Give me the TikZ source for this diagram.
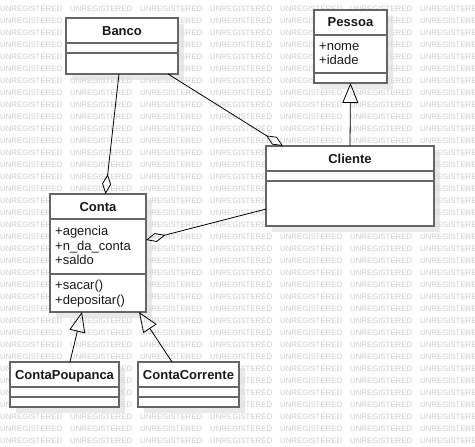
\documentclass[tikz,border=0pt]{standalone}
\usepackage{fontspec}
\setmainfont{Liberation Sans}
\usetikzlibrary{calc}
\usetikzlibrary{positioning}
\usetikzlibrary{arrows.meta}
\usetikzlibrary{shadows}

\begin{document}
\begin{tikzpicture}[x=1pt, y=-1pt,
		classbox/.style={draw=black!60, line width=1.6pt, fill=white, anchor=north west, inner sep=0pt, outer sep=0pt,
			drop shadow={shadow xshift=6pt, shadow yshift=-6pt, fill=black!14, opacity=0.6}},
		sepline/.style={draw=black!60, line width=1.6pt},
		ctitle/.style={anchor=base, inner sep=0pt, text=black!90, font=\fontsize{13}{15}\selectfont\bfseries},
		cattr/.style={anchor=base west, inner sep=0pt, text=black!90, font=\fontsize{13}{15}\selectfont},
		aggr/.style={draw=black, line width=0.8pt, -{Diamond[open, length=20pt, width=9pt]}},
		inher/.style={draw=black, line width=0.8pt, -{Triangle[open, length=20pt, width=16pt]}},
		wmark/.style={anchor=west, inner sep=0pt, text=black!20, font=\fontsize{7.8}{8}\selectfont}]
				\useasboundingbox (0,0) rectangle (475,447);
				\fill[white] (0,0) rectangle (475,447);
				
				% watermark
				\begin{scope}
					\clip (0,0) rectangle (475,447);
					\foreach \r in {0,...,36} {
						\foreach \c in {0,...,6} {
							\node[wmark] (wm-\r-\c) at (70*\c, 9+12*\r) {UNREGISTERED};
						}
					}
				\end{scope}
				
				% classes
				\node[classbox, minimum width=112pt, minimum height=56pt] (banco) at (66,18) {};
				\node[classbox, minimum width=73pt, minimum height=73pt] (pessoa) at (314,10) {};
				\node[classbox, minimum width=168pt, minimum height=80pt] (cliente) at (266,146) {};
				\node[classbox, minimum width=96pt, minimum height=118pt] (conta) at (50,194) {};
				\node[classbox, minimum width=109pt, minimum height=45pt] (poupanca) at (10,362) {};
				\node[classbox, minimum width=101pt, minimum height=45pt] (corrente) at (138,362) {};
				
				\draw[sepline] ($(banco.north west)+(0,25)$) -- ($(banco.north east)+(0,25)$);
				\draw[sepline] ($(banco.north west)+(0,35)$) -- ($(banco.north east)+(0,35)$);
				\draw[sepline] ($(pessoa.north west)+(0,25)$) -- ($(pessoa.north east)+(0,25)$);
				\draw[sepline] ($(pessoa.north west)+(0,63)$) -- ($(pessoa.north east)+(0,63)$);
				\draw[sepline] ($(cliente.north west)+(0,25)$) -- ($(cliente.north east)+(0,25)$);
				\draw[sepline] ($(cliente.north west)+(0,35)$) -- ($(cliente.north east)+(0,35)$);
				\draw[sepline] ($(conta.north west)+(0,25)$) -- ($(conta.north east)+(0,25)$);
				\draw[sepline] ($(conta.north west)+(0,80)$) -- ($(conta.north east)+(0,80)$);
				\draw[sepline] ($(poupanca.north west)+(0,25)$) -- ($(poupanca.north east)+(0,25)$);
				\draw[sepline] ($(poupanca.north west)+(0,35)$) -- ($(poupanca.north east)+(0,35)$);
				\draw[sepline] ($(corrente.north west)+(0,25)$) -- ($(corrente.north east)+(0,25)$);
				\draw[sepline] ($(corrente.north west)+(0,35)$) -- ($(corrente.north east)+(0,35)$);
				
				\node[ctitle] (banco-t) at ($(banco.north)+(0,17)$) {Banco};
				\node[ctitle] (pessoa-t) at ($(pessoa.north)+(0,17)$) {Pessoa};
				\node[ctitle] (cliente-t) at ($(cliente.north)+(0,17)$) {Cliente};
				\node[ctitle] (conta-t) at ($(conta.north)+(0,17)$) {Conta};
				\node[ctitle] (poupanca-t) at ($(poupanca.north)+(0,17)$) {ContaPoupanca};
				\node[ctitle] (corrente-t) at ($(corrente.north)+(0,17)$) {ContaCorrente};
				
				\node[cattr] (pessoa-a1) at ($(pessoa.north west)+(5,40)$) {+nome};
				\node[cattr] (pessoa-a2) at ($(pessoa.north west)+(5,54.5)$) {+idade};
				\node[cattr] (conta-a1) at ($(conta.north west)+(5,41.5)$) {+agencia};
				\node[cattr] (conta-a2) at ($(conta.north west)+(5,56)$) {+n\_da\_conta};
				\node[cattr] (conta-a3) at ($(conta.north west)+(5,70.5)$) {+saldo};
				\node[cattr] (conta-m1) at ($(conta.north west)+(5,95.5)$) {+sacar()};
				\node[cattr] (conta-m2) at ($(conta.north west)+(5,110)$) {+depositar()};
				
				% relations
				\draw[aggr] ($(banco.south west)!0.473!(banco.south east)$) -- ($(conta.north west)!0.578!(conta.north east)$);
				\draw[aggr] ($(banco.south west)!0.911!(banco.south east)$) -- ($(cliente.north west)!0.101!(cliente.north east)$);
				\draw[aggr] ($(cliente.north west)!0.788!(cliente.south west)$) -- ($(conta.north east)!0.39!(conta.south east)$);
				\draw[inher] (cliente.north) -- (pessoa.south);
				\draw[inher] ($(poupanca.north west)!0.55!(poupanca.north east)$) -- ($(conta.south west)!0.333!(conta.south east)$);
				\draw[inher] ($(corrente.north west)!0.337!(corrente.north east)$) -- ($(conta.south west)!0.927!(conta.south east)$);
			\end{tikzpicture}
\end{document}
